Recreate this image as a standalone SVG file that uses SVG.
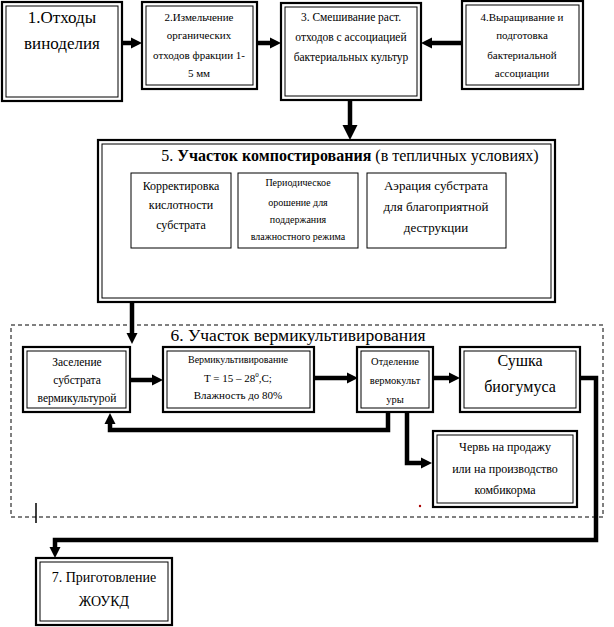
<svg xmlns="http://www.w3.org/2000/svg" width="614" height="627" viewBox="0 0 614 627">
<style>
text{font-family:"Liberation Serif","Times New Roman",serif;fill:#000;text-anchor:middle}
.o{fill:#fff;stroke:#000;stroke-width:2.2}
.i{fill:none;stroke:#000;stroke-width:1}
.s{fill:#fff;stroke:#000;stroke-width:1}
.c{fill:none;stroke:#000;stroke-width:4.5;stroke-linejoin:miter}
.d{fill:none;stroke:#000;stroke-width:1;stroke-dasharray:4,3}
</style>
<defs>
<marker id="ah" viewBox="0 0 10 10" refX="0" refY="5" markerUnits="userSpaceOnUse" markerWidth="11" markerHeight="13" orient="auto"><path d="M0,0 L10,5 L0,10 z"/></marker>
<marker id="ahb" viewBox="0 0 10 10" refX="0" refY="5" markerUnits="userSpaceOnUse" markerWidth="15" markerHeight="17" orient="auto"><path d="M0,0 L10,5 L0,10 z"/></marker>
</defs>
<rect x="0" y="0" width="614" height="627" fill="#fff"/>

<g id="n1">
<rect class="o" x="2" y="2" width="120" height="99"/><rect class="i" x="6" y="6" width="112" height="91"/>
<text x="62" y="23" font-size="17">1.Отходы</text>
<text x="62" y="49" font-size="17">виноделия</text>
</g>
<g id="n2">
<rect class="o" x="142" y="2" width="115" height="87"/><rect class="i" x="146" y="6" width="107" height="79"/>
<text x="199" y="21" font-size="11">2.Измельчение</text>
<text x="199" y="39" font-size="11">органических</text>
<text x="199" y="59" font-size="11">отходов фракции 1-</text>
<text x="199" y="77" font-size="11">5 мм</text>
</g>
<g id="n3">
<rect class="o" x="281" y="3" width="140" height="97"/><rect class="i" x="285" y="7" width="132" height="89"/>
<text x="351" y="21" font-size="11.5">3. Смешивание раст.</text>
<text x="351" y="41" font-size="11.5">отходов с ассоциацией</text>
<text x="351" y="61" font-size="11.5">бактериальных культур</text>
</g>
<g id="n4">
<rect class="o" x="462" y="1" width="121" height="88"/><rect class="i" x="466" y="5" width="113" height="80"/>
<text x="522" y="21" font-size="11">4.Выращивание и</text>
<text x="522" y="39" font-size="11">подготовка</text>
<text x="522" y="59" font-size="11">бактериальной</text>
<text x="522" y="77" font-size="11">ассоциации</text>
</g>
<g id="n5">
<rect class="o" x="98" y="140" width="457" height="162"/><rect class="i" x="102" y="144" width="449" height="154"/>
<text x="350" y="161" font-size="16">5. <tspan font-weight="bold">Участок компостирования</tspan> (в тепличных условиях)</text>
</g>
<g id="n5a">
<rect class="s" x="131" y="173" width="100" height="75"/>
<text x="181" y="190" font-size="12">Корректировка</text>
<text x="181" y="209" font-size="12">кислотности</text>
<text x="181" y="229" font-size="12">субстрата</text>
</g>
<g id="n5b">
<rect class="s" x="238" y="173" width="120" height="75"/>
<text x="298" y="186" font-size="10">Периодическое</text>
<text x="298" y="206" font-size="10">орошение для</text>
<text x="298" y="223" font-size="10">поддержания</text>
<text x="298" y="240" font-size="10">влажностного режима</text>
</g>
<g id="n5c">
<rect class="s" x="367" y="173" width="139" height="75"/>
<text x="436" y="190" font-size="13">Аэрация  субстрата</text>
<text x="436" y="211" font-size="13">для благоприятной</text>
<text x="436" y="232" font-size="13">деструкции</text>
</g>

<g id="n6">
<rect class="d" x="11" y="325" width="592" height="192"/>
<text x="298" y="341" font-size="17.5">6. Участок вермикультивирования</text>
<path d="M36,503 V523" stroke="#000" stroke-width="1.5"/>
<circle cx="420" cy="506" r="1.2" fill="#a00"/>
</g>
<g id="n6a">
<rect class="o" x="23" y="347" width="107" height="65"/><rect class="i" x="27" y="351" width="99" height="57"/>
<text x="77" y="366" font-size="11.5">Заселение</text>
<text x="77" y="384" font-size="11.5">субстрата</text>
<text x="77" y="402" font-size="11.5">вермикультурой</text>
</g>
<g id="n6b">
<rect class="o" x="163" y="347" width="151" height="65"/><rect class="i" x="167" y="351" width="143" height="57"/>
<text x="238" y="363" font-size="10">Вермикультивирование</text>
<text x="238" y="382" font-size="11">T = 15 – 28<tspan font-size="7" dy="-5">0</tspan><tspan dy="5">,C;</tspan></text>
<text x="238" y="399" font-size="11">Влажность до 80%</text>
</g>
<g id="n6c">
<rect class="o" x="357" y="347" width="76" height="65"/><rect class="i" x="361" y="351" width="68" height="57"/>
<text x="395" y="365" font-size="10.5">Отделение</text>
<text x="395" y="384" font-size="10.5">вермокульт</text>
<text x="395" y="403" font-size="10.5">уры</text>
</g>
<g id="n6d">
<rect class="o" x="460" y="347" width="120" height="65"/><rect class="i" x="464" y="351" width="112" height="57"/>
<text x="520" y="366" font-size="16">Сушка</text>
<text x="520" y="392" font-size="16">биогумуса</text>
</g>
<g id="n6e">
<rect class="o" x="433" y="431" width="144" height="76"/><rect class="i" x="437" y="435" width="136" height="68"/>
<text x="505" y="451" font-size="12">Червь на продажу</text>
<text x="505" y="473" font-size="12">или на производство</text>
<text x="505" y="494" font-size="12">комбикорма</text>
</g>
<g id="n7">
<rect class="o" x="36" y="558" width="136" height="67"/><rect class="i" x="40" y="562" width="128" height="59"/>
<text x="104" y="582" font-size="14">7. Приготовление</text>
<text x="104" y="606" font-size="14">ЖОУКД</text>
</g>

<g id="connectors">
<path class="c" d="M122,43 H131" marker-end="url(#ah)"/>
<path class="c" d="M257,43 H270" marker-end="url(#ah)"/>
<path class="c" d="M462,43 H432" marker-end="url(#ah)"/>
<path class="c" stroke-width="5" d="M350,100 V125" marker-end="url(#ahb)"/>
<path class="c" d="M132,302 V333" marker-end="url(#ah)"/>
<path class="c" d="M130,380 H152" marker-end="url(#ah)"/>
<path class="c" d="M314,378 H347" marker-end="url(#ah)"/>
<path class="c" d="M433,378 H449" marker-end="url(#ah)"/>
<path class="c" d="M388,412 V430 H110 V424" marker-end="url(#ah)"/>
<path class="c" d="M407,412 V463 H421" marker-end="url(#ah)"/>
<path class="c" d="M580,378 H596 V540 H55 V547" marker-end="url(#ah)"/>
</g>
</svg>
